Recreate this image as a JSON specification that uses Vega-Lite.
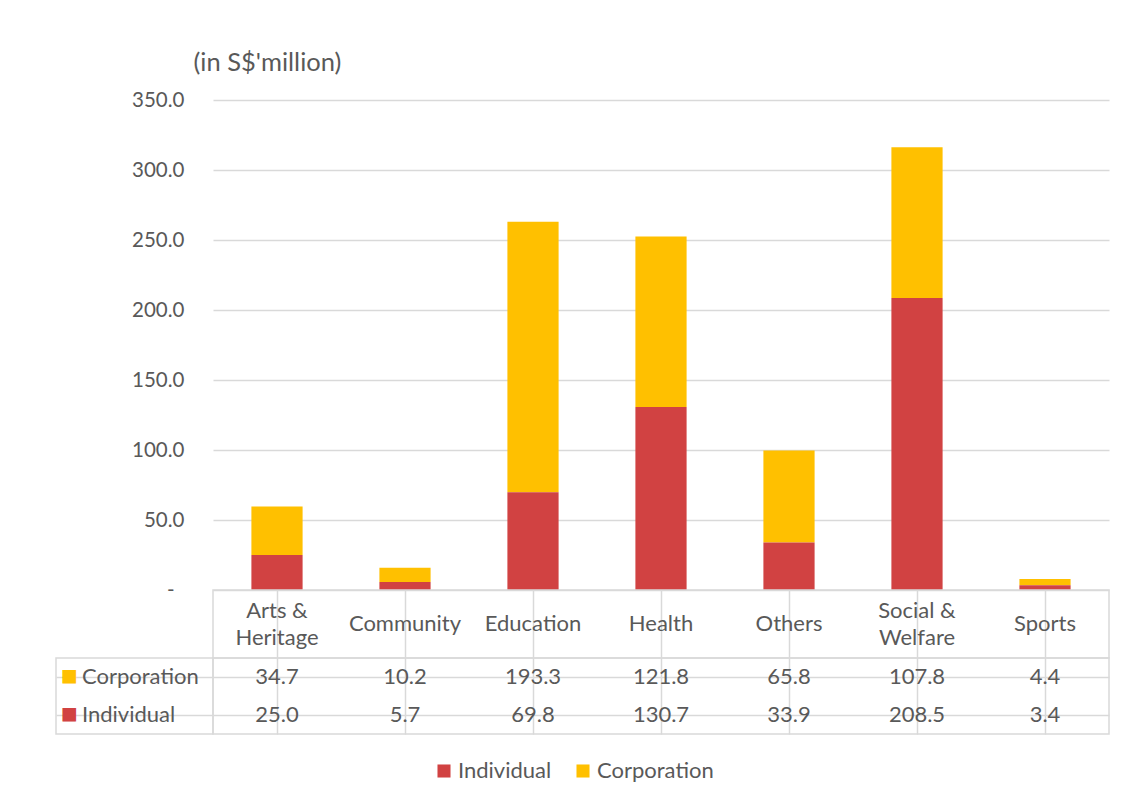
{
  "$schema": "https://vega.github.io/schema/vega-lite/v6.json",
  "padding": {"left": 55, "top": 50, "right": 10, "bottom": 10},
  "background": "white",
  "datasets": {
    "vals": [
      {"cat": "Arts & Heritage", "series": "Corporation", "value": 34.7},
      {"cat": "Arts & Heritage", "series": "Individual", "value": 25.0},
      {"cat": "Community", "series": "Corporation", "value": 10.2},
      {"cat": "Community", "series": "Individual", "value": 5.7},
      {"cat": "Education", "series": "Corporation", "value": 193.3},
      {"cat": "Education", "series": "Individual", "value": 69.8},
      {"cat": "Health", "series": "Corporation", "value": 121.8},
      {"cat": "Health", "series": "Individual", "value": 130.7},
      {"cat": "Others", "series": "Corporation", "value": 65.8},
      {"cat": "Others", "series": "Individual", "value": 33.9},
      {"cat": "Social & Welfare", "series": "Corporation", "value": 107.8},
      {"cat": "Social & Welfare", "series": "Individual", "value": 208.5},
      {"cat": "Sports", "series": "Corporation", "value": 4.4},
      {"cat": "Sports", "series": "Individual", "value": 3.4}
    ],
    "cats": [
      {"cat": "Arts & Heritage", "label": "Arts &\nHeritage"},
      {"cat": "Community", "label": "Community"},
      {"cat": "Education", "label": "Education"},
      {"cat": "Health", "label": "Health"},
      {"cat": "Others", "label": "Others"},
      {"cat": "Social & Welfare", "label": "Social &\nWelfare"},
      {"cat": "Sports", "label": "Sports"}
    ],
    "series": [
      {"series": "Corporation"},
      {"series": "Individual"}
    ]
  },
  "config": {
    "font": "Lato",
    "view": {"stroke": null},
    "text": {"color": "#595959", "fontSize": 22, "font": "Lato"}
  },
  "columns": 2,
  "spacing": 0,
  "bounds": "flush",
  "resolve": {"scale": {"x": "independent", "y": "independent", "color": "shared"}},
  "concat": [
    {
      "width": 157, "height": 490,
      "data": {"name": "series"},
      "mark": {"type": "text", "text": ""}
    },
    {
      "width": 896, "height": 490,
      "data": {"name": "vals"},
      "mark": {"type": "bar"},
      "encoding": {
        "x": {"field": "cat", "type": "nominal", "scale": {"paddingInner": 0.6, "paddingOuter": 0.3}, "axis": null},
        "y": {
          "field": "value", "type": "quantitative", "stack": "zero",
          "scale": {"domain": [0, 350], "nice": false},
          "axis": {
            "values": [0, 50, 100, 150, 200, 250, 300, 350],
            "title": "(in S$'million)", "titleAngle": 0, "titleAlign": "left", "titleBaseline": "middle",
            "titleX": -20, "titleY": -38, "titleFontSize": 25.5, "titleFontWeight": "normal", "titleColor": "#595959", "titleFont": "Lato",
            "labelFontSize": 20.5, "labelColor": "#595959", "labelFont": "Lato",
            "labelPadding": {"condition": {"test": "datum.value === 0", "value": 39}, "value": 29},
            "labelExpr": "datum.value == 0 ? '-' : format(datum.value, '.1f')",
            "domain": false, "ticks": false, "grid": true, "gridColor": "#d9d9d9", "gridWidth": 1.5
          }
        },
        "color": {
          "field": "series", "type": "nominal",
          "scale": {"domain": ["Individual", "Corporation"], "range": ["#D14242", "#FFC000"]},
          "legend": {
            "title": null, "orient": "none", "legendX": 377, "legendY": 660, "direction": "horizontal",
            "symbolType": "square", "symbolSize": 170, "symbolStrokeWidth": 0,
            "labelFontSize": 22, "labelColor": "#595959", "labelFont": "Lato",
            "columnPadding": 20, "labelOffset": 3, "padding": 0
          }
        },
        "order": {"field": "series", "sort": "descending"}
      }
    },
    {
      "width": 157, "height": 68,
      "data": {"name": "series"},
      "mark": {"type": "text", "text": ""}
    },
    {
      "width": 896, "height": 68,
      "data": {"name": "cats"},
      "view": {"stroke": "#d9d9d9", "strokeWidth": 1.5},
      "encoding": {
        "x": {
          "field": "cat", "type": "nominal", "scale": {"paddingInner": 0, "paddingOuter": 0},
          "axis": {"title": null, "labels": false, "ticks": false, "domain": false, "grid": true, "gridColor": "#d9d9d9", "gridWidth": 1.5, "bandPosition": 0}
        },
        "text": {"field": "label"}
      },
      "layer": [
        {
          "transform": [{"filter": "indexof(datum.label, '&') < 0"}],
          "mark": {"type": "text", "fontSize": 22, "color": "#595959", "baseline": "middle"}
        },
        {
          "transform": [{"filter": "indexof(datum.label, '&') >= 0"}],
          "mark": {"type": "text", "lineBreak": "\n", "lineHeight": 27, "dy": -13.5, "fontSize": 22, "color": "#595959", "baseline": "middle"}
        }
      ]
    },
    {
      "width": 157, "height": 76,
      "data": {"name": "series"},
      "view": {"stroke": "#d9d9d9", "strokeWidth": 1.5},
      "encoding": {
        "y": {
          "field": "series", "type": "nominal", "sort": ["Corporation", "Individual"],
          "scale": {"paddingInner": 0, "paddingOuter": 0},
          "axis": {"title": null, "labels": false, "ticks": false, "domain": false, "grid": true, "gridColor": "#d9d9d9", "gridWidth": 1.5, "bandPosition": 0}
        }
      },
      "layer": [
        {
          "mark": {"type": "text", "align": "left", "dx": -52.5, "fontSize": 22, "color": "#595959"},
          "encoding": {"text": {"field": "series"}}
        },
        {
          "mark": {"type": "text", "text": "■", "dx": -65, "fontSize": 28},
          "encoding": {"color": {"condition": {"test": "datum.series == 'Corporation'", "value": "#FFC000"}, "value": "#D14242"}}
        }
      ]
    },
    {
      "width": 896, "height": 76,
      "data": {"name": "vals"},
      "view": {"stroke": "#d9d9d9", "strokeWidth": 1.5},
      "mark": {"type": "text", "fontSize": 22, "color": "#595959"},
      "encoding": {
        "x": {
          "field": "cat", "type": "nominal", "scale": {"paddingInner": 0, "paddingOuter": 0},
          "axis": {"title": null, "labels": false, "ticks": false, "domain": false, "grid": true, "gridColor": "#d9d9d9", "gridWidth": 1.5, "bandPosition": 0}
        },
        "y": {
          "field": "series", "type": "nominal", "sort": ["Corporation", "Individual"],
          "scale": {"paddingInner": 0, "paddingOuter": 0},
          "axis": {"title": null, "labels": false, "ticks": false, "domain": false, "grid": true, "gridColor": "#d9d9d9", "gridWidth": 1.5, "bandPosition": 0}
        },
        "text": {"field": "value", "type": "quantitative", "format": ".1f"}
      }
    }
  ]
}
